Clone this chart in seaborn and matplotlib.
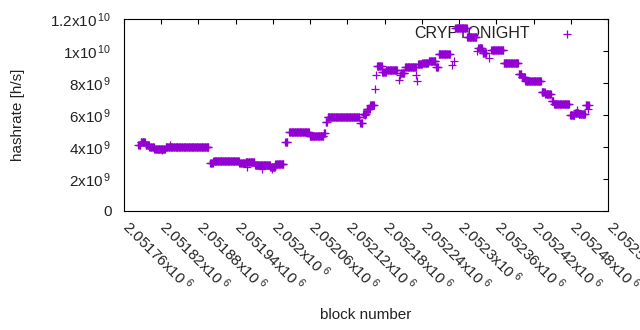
import numpy as np
import pandas as pd
import matplotlib
matplotlib.use("Agg")
import matplotlib.pyplot as plt
import matplotlib.transforms as mtransforms
import seaborn as sns

# runs of blocks sharing one hashrate (start block, end block, hashrate)
run_start = [2051783, 2051787, 2051795, 2051801, 2051809, 2051827,
             2051899, 2051904, 2051946, 2051956, 2051971, 2051986, 2051996, 2052004,
             2052020, 2052026, 2052059, 2052082, 2052085, 2052088, 2052141,
             2052145, 2052151, 2052157, 2052168, 2052176, 2052183, 2052206,
             2052213, 2052234, 2052241, 2052251, 2052263, 2052267,
             2052294, 2052313, 2052331, 2052338, 2052352, 2052372,
             2052396, 2052401, 2052407, 2052433, 2052439, 2052449, 2052453,
             2052479, 2052487, 2052493, 2052504]
run_end = [2051786, 2051794, 2051800, 2051808, 2051826, 2051896,
           2051903, 2051945, 2051955, 2051970, 2051985, 2051995, 2052003, 2052017,
           2052023, 2052058, 2052081, 2052084, 2052087, 2052139, 2052144,
           2052150, 2052156, 2052163, 2052175, 2052182, 2052200, 2052212,
           2052230, 2052240, 2052250, 2052262, 2052266, 2052285,
           2052312, 2052328, 2052337, 2052344, 2052371, 2052395,
           2052400, 2052406, 2052432, 2052438, 2052448, 2052452, 2052477,
           2052486, 2052492, 2052503, 2052507]
run_rate = [4.15e9, 4.3e9, 4.1e9, 4.0e9, 3.9e9, 4.0e9,
            3.0e9, 3.1e9, 3.0e9, 3.05e9, 2.85e9, 2.9e9, 2.75e9, 2.95e9,
            4.3e9, 4.95e9, 4.7e9, 4.9e9, 5.55e9, 5.85e9, 5.5e9,
            6.05e9, 6.35e9, 6.6e9, 9.05e9, 8.7e9, 8.8e9, 8.6e9,
            9.0e9, 9.2e9, 9.25e9, 9.4e9, 9.0e9, 9.8e9,
            11.45e9, 10.9e9, 10.2e9, 9.9e9, 10.05e9, 9.25e9,
            8.55e9, 8.35e9, 8.15e9, 7.45e9, 7.3e9, 6.85e9, 6.7e9,
            6.0e9, 6.15e9, 6.05e9, 6.6e9]

# single blocks off their run
extra_block = [2051822, 2051834, 2051959, 2051983, 2051999, 2052148, 2052165, 2052166,
               2052203, 2052205, 2052231, 2052232, 2052288, 2052292, 2052329,
               2052348, 2052490, 2052508, 2052509]
extra_rate = [3.8e9, 4.15e9, 2.75e9, 2.65e9, 2.65e9, 6.0e9, 7.6e9, 8.5e9,
              8.2e9, 8.5e9, 8.5e9, 8.1e9, 9.1e9, 9.4e9, 10.0e9,
              9.55e9, 6.3e9, 6.35e9, 6.6e9]

x_ticks = list(range(2051760, 2052541, 60))
y_ticks = [0, 2e9, 4e9, 6e9, 8e9, 1e10, 1.2e10]
y_labels = ['0', r'2x10$^{\,9}$', r'4x10$^{\,9}$', r'6x10$^{\,9}$', r'8x10$^{\,9}$',
            r'1x10$^{\,10}$', r'1.2x10$^{\,10}$']

blocks = []
rates = []
for s, e, r in zip(run_start, run_end, run_rate):
    for b in range(s, e + 1):
        blocks.append(b)
        rates.append(r)
blocks += extra_block
rates += extra_rate
df = pd.DataFrame({'block': blocks, 'hashrate': rates})

sns.set_style('white')
plt.rcParams['font.family'] = ['Liberation Sans', 'DejaVu Sans']
plt.rcParams['mathtext.fontset'] = 'custom'
plt.rcParams['mathtext.rm'] = 'Liberation Sans'
plt.rcParams['mathtext.default'] = 'regular'
plt.rcParams['font.size'] = 11

fig = plt.figure(figsize=(6.4, 3.3), dpi=100)
ax = fig.add_axes([124 / 640, 119 / 330, 484 / 640, 192 / 330])

sns.scatterplot(data=df, x='block', y='hashrate', marker='+', color='#9400d3',
                s=30, linewidth=0.9, ax=ax, label='CRYPTONIGHT', zorder=2)

ax.set_xlim(2051760, 2052540)
ax.set_ylim(0, 1.2e10)
ax.set_xticks(x_ticks)
ax.set_xticklabels(['%gx10$^{\\ 6}$' % (v / 1e6) for v in x_ticks],
                   rotation=-45, ha='left', va='top', rotation_mode='anchor')
ax.set_yticks(y_ticks)
ax.set_yticklabels(y_labels)
ax.tick_params(direction='in', length=3.5, width=0.8, top=True, right=True,
               colors='black', labelcolor='#222222')
ax.tick_params(axis='x', pad=4.5)
ax.tick_params(axis='y', pad=9)
shift = mtransforms.ScaledTranslation(0.08, 0, fig.dpi_scale_trans)
for lab in ax.get_xticklabels():
    lab.set_transform(lab.get_transform() + shift)
for sp in ax.spines.values():
    sp.set_color('black')
    sp.set_linewidth(0.8)

ax.set_xlabel('block number', color='#222222')
ax.set_ylabel('hashrate [h/s]', color='#222222')
ax.xaxis.set_label_coords(0.5, -0.505)
ax.yaxis.set_label_coords(-0.205, 0.5)

leg = ax.legend(loc='upper right', frameon=False, markerfirst=False,
                bbox_to_anchor=(0.968, 1.015), handletextpad=1.3, borderaxespad=0.2,
                fontsize=11.5)
for t in leg.get_texts():
    t.set_color('#222222')
leg.set_zorder(1)

fig.savefig('out.png', dpi=100)
